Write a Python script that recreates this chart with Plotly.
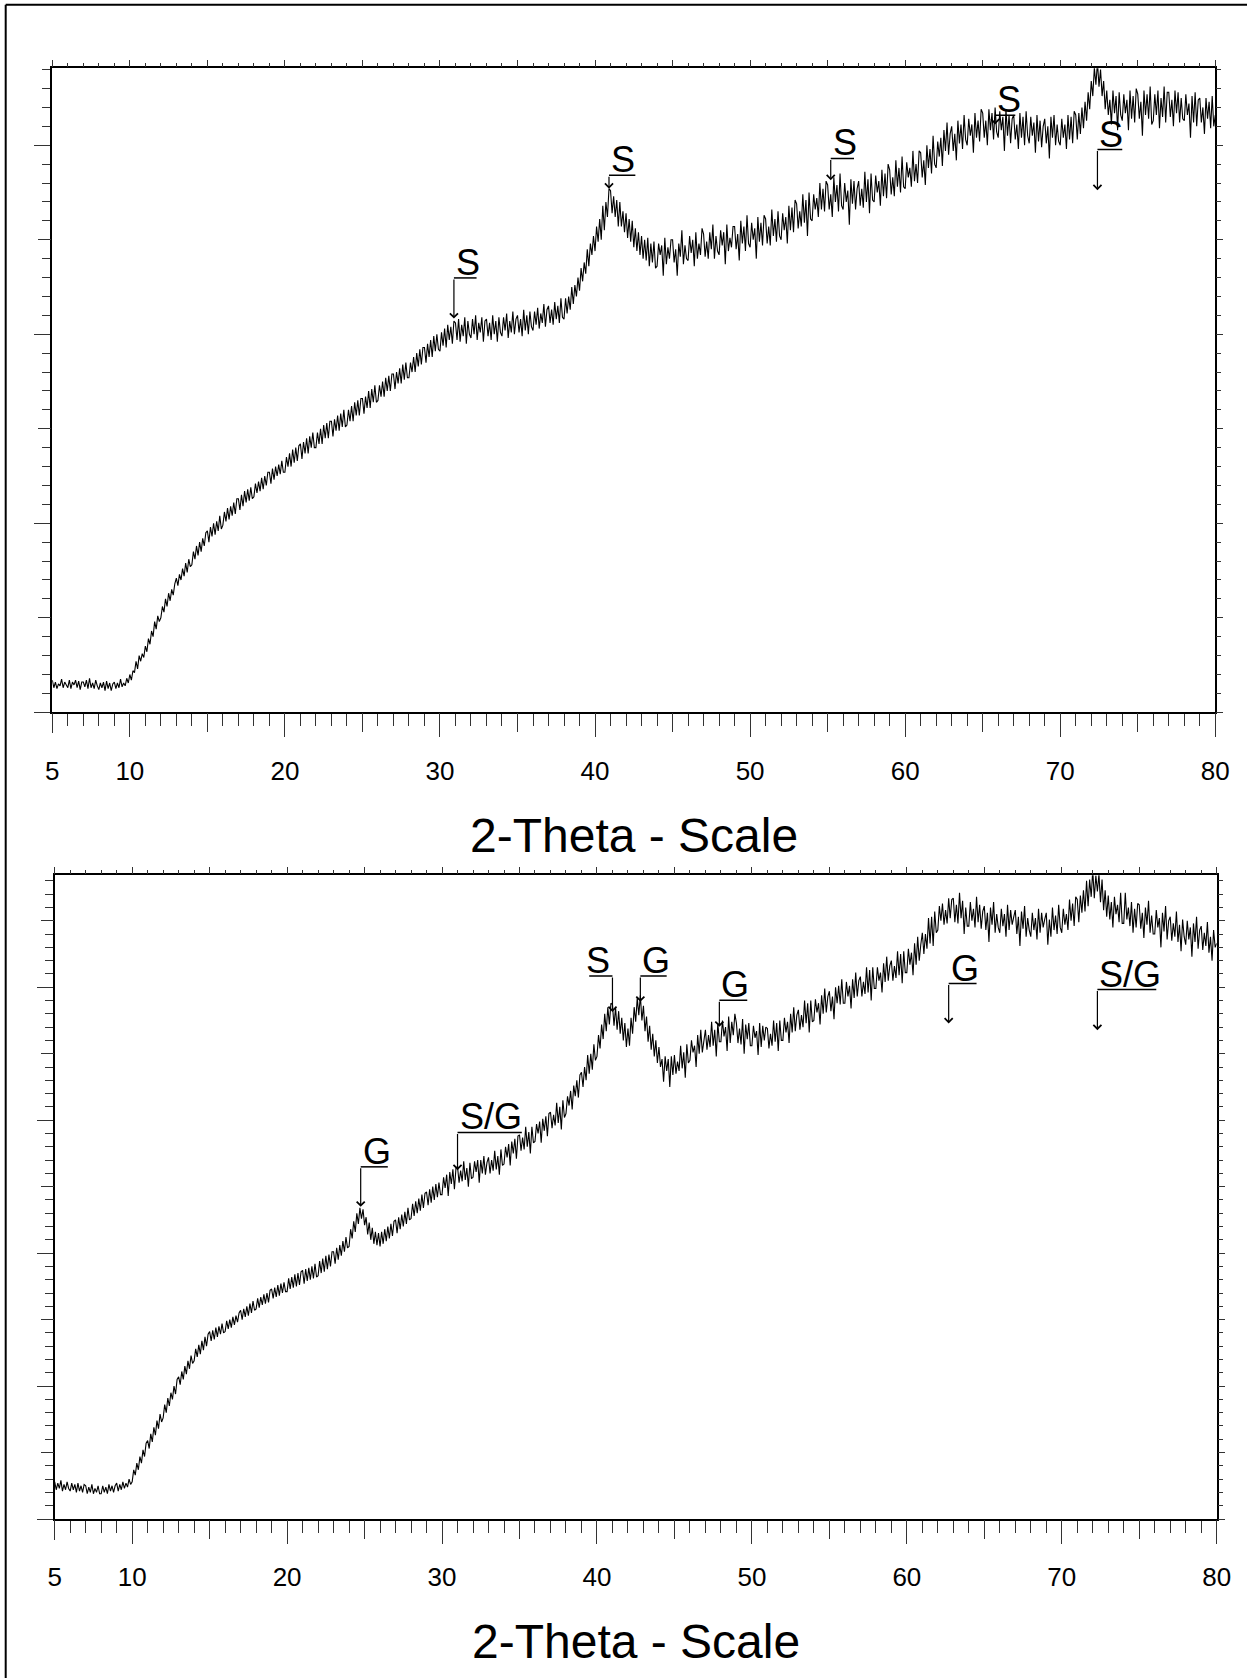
import plotly.graph_objects as go

# ---------------- data ----------------
scan_start = 5.0      # 2-theta of first step
scan_step = 0.1       # 2-theta step

# upper pattern, intensity (counts), one row per degree (x.0 ... x.9)
top_counts = [
    17, 13, 16, 12.5, 15, 14, 17.5, 13, 16, 14,            # 5
    13, 17, 12.5, 16, 14.5, 17, 13, 16.5, 12, 16,          # 6
    16, 13.5, 17, 12.5, 18, 13, 15.5, 12.5, 17, 14,        # 7
    12, 15.5, 13, 16, 11.5, 16.5, 12.5, 15.5, 11.5, 15,    # 8
    16, 12.5, 15.5, 13, 17.5, 13.5, 15.5, 14, 18, 15.5,    # 9
    20, 17, 22, 21, 27, 23, 30, 27, 31, 29,                # 10
    35, 32, 39, 36, 43, 40, 48, 44, 51, 48,                # 11
    50, 56, 53, 60, 56, 63, 59, 65, 62, 68,                # 12
    71, 67, 73, 70, 76, 72, 79, 74, 81, 77,                # 13
    78, 85, 81, 88, 83, 90, 85, 92, 88, 95,                # 14
    96, 90, 98, 93, 100, 94, 101, 96, 104, 97,             # 15
    99, 106, 101, 108, 102, 109, 104, 111, 105, 113,       # 16
    113, 107, 115, 109, 117, 111, 118, 112, 119, 113,      # 17
    114, 121, 116, 122, 117, 124, 118, 125, 120, 127,      # 18
    127, 121, 129, 123, 130, 125, 131, 126, 133, 127,      # 19
    127, 135, 130, 137, 130, 139, 132, 140, 133, 141,      # 20
    142, 134, 143, 137, 145, 137, 146, 140, 148, 140,      # 21
    140, 148, 142, 150, 142, 152, 145, 153, 145, 154,      # 22
    154, 146, 155, 149, 157, 149, 158, 151, 160, 151,      # 23
    152, 160, 154, 162, 154, 164, 157, 165, 157, 166,      # 24
    166, 158, 167, 161, 170, 161, 171, 164, 173, 164,      # 25
    165, 173, 167, 175, 167, 177, 170, 178, 170, 179,      # 26
    179, 171, 180, 174, 182, 174, 184, 176, 185, 177,      # 27
    177, 185, 180, 188, 180, 190, 183, 192, 184, 193,      # 28
    193, 185, 195, 188, 197, 188, 199, 191, 200, 192,      # 29
    191, 201, 194, 203, 193, 205, 197, 204, 195, 207,      # 30
    206, 197, 208, 196, 205, 199, 209, 195, 207, 200,      # 31
    198, 208, 200, 210, 197, 206, 201, 209, 196, 207,      # 32
    208, 199, 206, 197, 210, 200, 207, 196, 209, 201,      # 33
    199, 209, 202, 211, 198, 207, 201, 212, 200, 208,      # 34
    210, 201, 208, 199, 213, 202, 210, 200, 212, 204,      # 35
    202, 212, 205, 214, 203, 211, 206, 216, 204, 213,      # 36
    215, 206, 213, 205, 217, 208, 215, 206, 219, 209,      # 37
    208, 219, 211, 220, 213, 225, 216, 226, 220, 230,      # 38
    223, 235, 228, 238, 232, 245, 236, 248, 242, 252,      # 39
    244, 257, 249, 261, 250, 268, 255, 270, 262, 277,      # 40
    276, 264, 273, 262, 271, 257, 270, 257, 265, 254,      # 41
    264, 251, 261, 249, 260, 246, 256, 244, 254, 242,      # 42
    252, 240, 250, 239, 251, 236, 248, 238, 249, 235,      # 43
    236, 248, 242, 247, 231, 251, 237, 246, 240, 250,      # 44
    250, 238, 245, 231, 248, 241, 255, 237, 247, 240,      # 45
    239, 252, 243, 250, 236, 254, 240, 248, 242, 256,      # 46
    253, 241, 249, 240, 254, 245, 258, 240, 252, 244,      # 47
    242, 255, 247, 254, 237, 258, 244, 251, 246, 257,      # 48
    257, 245, 253, 239, 260, 248, 257, 244, 263, 248,      # 49
    246, 259, 250, 256, 240, 262, 249, 259, 247, 263,      # 50
    261, 248, 257, 247, 266, 252, 261, 249, 265, 252,      # 51
    250, 264, 255, 262, 248, 268, 255, 267, 254, 271,      # 52
    269, 256, 265, 257, 274, 259, 271, 252, 275, 261,      # 53
    260, 274, 266, 272, 262, 280, 266, 277, 265, 281,      # 54
    279, 266, 274, 262, 283, 270, 279, 265, 285, 268,      # 55
    266, 280, 270, 276, 258, 282, 269, 281, 266, 277,      # 56
    281, 268, 277, 267, 286, 270, 282, 264, 285, 271,      # 57
    270, 284, 275, 281, 268, 287, 273, 285, 272, 290,      # 58
    287, 274, 283, 273, 292, 278, 288, 275, 294, 278,      # 59
    277, 291, 283, 288, 278, 297, 281, 290, 280, 297,      # 60
    296, 283, 292, 279, 300, 288, 298, 285, 305, 290,      # 61
    288, 302, 294, 304, 289, 308, 297, 312, 295, 306,      # 62
    310, 297, 306, 292, 313, 301, 311, 298, 316, 303,      # 63
    300, 314, 305, 311, 296, 317, 304, 313, 302, 319,      # 64
    317, 304, 313, 300, 319, 308, 317, 303, 320, 307,      # 65
    304, 318, 308, 315, 297, 319, 305, 316, 301, 314,      # 66
    316, 303, 311, 298, 317, 304, 315, 300, 318, 305,      # 67
    301, 315, 305, 312, 296, 316, 302, 313, 299, 310,      # 68
    314, 301, 310, 293, 315, 304, 316, 300, 311, 302,      # 69
    300, 314, 304, 311, 298, 316, 303, 315, 301, 318,      # 70
    316, 303, 317, 306, 320, 309, 323, 313, 328, 319,      # 71
    334, 326, 341, 332, 344, 331, 340, 326, 334, 319,      # 72
    329, 316, 324, 311, 329, 317, 326, 308, 328, 316,      # 73
    313, 327, 317, 324, 308, 329, 314, 326, 312, 330,      # 74
    327, 314, 323, 305, 329, 316, 327, 314, 331, 311,      # 75
    313, 327, 316, 329, 309, 325, 315, 331, 312, 328,      # 76
    328, 315, 324, 310, 329, 317, 328, 312, 325, 314,      # 77
    313, 327, 316, 322, 304, 326, 312, 328, 310, 324,      # 78
    325, 312, 320, 306, 325, 314, 323, 309, 326, 310,      # 79
    316,                                                   # 80
]

# lower pattern
bottom_counts = [
    28, 22, 27, 23, 29, 21, 26, 22, 28, 23,                # 5
    21, 27, 22, 26, 20, 27, 21, 25, 20, 26,                # 6
    25, 19, 24, 20, 26, 19, 23, 20, 25, 19,                # 7
    19, 25, 20, 24, 19, 26, 21, 25, 20, 25,                # 8
    27, 21, 26, 22, 28, 23, 27, 24, 30, 26,                # 9
    28, 37, 33, 42, 37, 47, 42, 52, 47, 57,                # 10
    59, 53, 64, 58, 69, 63, 74, 68, 79, 73,                # 11
    76, 86, 80, 91, 85, 95, 90, 100, 94, 105,              # 12
    107, 101, 111, 105, 115, 109, 119, 113, 123, 117,      # 13
    119, 128, 122, 131, 124, 134, 127, 137, 130, 139,      # 14
    141, 134, 142, 135, 144, 137, 145, 139, 147, 140,      # 15
    141, 149, 143, 150, 144, 152, 146, 153, 148, 155,      # 16
    157, 150, 158, 152, 160, 153, 162, 155, 164, 157,      # 17
    158, 166, 159, 167, 161, 169, 162, 170, 163, 172,      # 18
    173, 166, 174, 167, 176, 168, 177, 170, 178, 171,      # 19
    171, 181, 173, 182, 174, 184, 175, 185, 176, 186,      # 20
    187, 177, 188, 179, 189, 180, 190, 181, 192, 182,      # 21
    183, 194, 185, 196, 186, 198, 188, 199, 190, 201,      # 22
    201, 192, 204, 195, 206, 198, 209, 201, 212, 204,      # 23
    205, 218, 211, 224, 216, 230, 222, 234, 226, 233,      # 24
    221, 227, 214, 223, 210, 219, 207, 216, 206, 215,      # 25
    205, 216, 207, 218, 209, 220, 211, 222, 213, 224,      # 26
    225, 215, 227, 218, 229, 220, 231, 222, 234, 225,      # 27
    226, 237, 228, 239, 230, 241, 232, 244, 234, 245,      # 28
    246, 236, 248, 238, 250, 240, 252, 242, 253, 244,      # 29
    244, 257, 249, 259, 243, 261, 252, 263, 248, 264,      # 30
    265, 253, 262, 254, 269, 255, 264, 250, 268, 256,      # 31
    257, 269, 261, 270, 253, 270, 260, 273, 259, 268,      # 32
    272, 260, 270, 262, 277, 263, 273, 259, 278, 266,      # 33
    267, 280, 272, 282, 266, 284, 275, 286, 271, 288,      # 34
    289, 277, 287, 278, 295, 280, 291, 275, 295, 283,      # 35
    284, 297, 290, 299, 283, 301, 292, 303, 288, 305,      # 36
    306, 294, 304, 296, 313, 298, 310, 293, 315, 302,      # 37
    305, 318, 311, 322, 308, 326, 318, 330, 317, 334,      # 38
    336, 325, 340, 330, 349, 335, 350, 338, 357, 345,      # 39
    348, 364, 354, 372, 361, 380, 367, 385, 372, 388,      # 40
    387, 371, 385, 368, 382, 365, 377, 360, 373, 355,      # 41
    369, 356, 377, 365, 385, 374, 392, 379, 394, 375,      # 42
    386, 367, 378, 359, 371, 353, 365, 348, 360, 343,      # 43
    355, 340, 346, 329, 348, 337, 346, 325, 348, 334,      # 44
    349, 335, 344, 337, 356, 339, 351, 332, 357, 343,      # 45
    345, 360, 351, 356, 340, 364, 350, 368, 351, 362,      # 46
    368, 353, 364, 355, 374, 356, 368, 348, 373, 359,      # 47
    359, 375, 363, 370, 352, 378, 358, 374, 364, 380,      # 48
    373, 358, 369, 357, 376, 350, 372, 361, 373, 356,      # 49
    356, 371, 362, 367, 349, 373, 355, 371, 360, 370,      # 50
    369, 354, 365, 356, 375, 359, 373, 352, 375, 360,      # 51
    360, 377, 366, 374, 358, 380, 366, 385, 367, 379,      # 52
    383, 368, 379, 370, 390, 373, 388, 366, 390, 374,      # 53
    375, 391, 381, 388, 372, 394, 380, 399, 381, 393,      # 54
    397, 382, 393, 376, 400, 388, 401, 387, 406, 388,      # 55
    388, 404, 393, 401, 384, 406, 392, 411, 393, 405,      # 56
    408, 393, 404, 395, 415, 396, 413, 390, 415, 399,      # 57
    399, 415, 405, 411, 396, 418, 404, 423, 405, 416,      # 58
    420, 405, 416, 407, 427, 409, 425, 403, 427, 411,      # 59
    411, 429, 417, 426, 409, 433, 417, 438, 420, 432,      # 60
    441, 425, 440, 429, 452, 433, 453, 431, 457, 441,      # 61
    443, 461, 450, 463, 447, 458, 448, 467, 452, 466,      # 62
    467, 449, 462, 448, 471, 452, 465, 440, 460, 446,      # 63
    446, 464, 450, 459, 445, 468, 449, 462, 444, 457,      # 64
    461, 443, 456, 434, 460, 447, 464, 441, 455, 445,      # 65
    441, 459, 446, 455, 438, 462, 443, 458, 447, 453,      # 66
    458, 440, 453, 431, 457, 444, 461, 438, 452, 443,      # 67
    438, 456, 443, 452, 436, 459, 441, 456, 445, 451,      # 68
    456, 432, 451, 438, 460, 443, 454, 440, 462, 445,      # 69
    441, 459, 447, 455, 443, 466, 450, 463, 446, 468,      # 70
    466, 449, 469, 456, 473, 457, 480, 461, 481, 468,      # 71
    488, 467, 484, 472, 485, 464, 481, 458, 473, 453,      # 72
    469, 451, 464, 445, 468, 455, 462, 449, 471, 448,      # 73
    448, 471, 451, 460, 446, 464, 441, 459, 445, 463,      # 74
    462, 444, 456, 437, 460, 447, 465, 441, 454, 440,      # 75
    440, 458, 445, 452, 430, 456, 442, 461, 436, 450,      # 76
    453, 435, 448, 438, 457, 434, 447, 427, 451, 438,      # 77
    432, 450, 436, 445, 423, 448, 434, 453, 429, 443,      # 78
    446, 428, 441, 431, 449, 426, 438, 420, 443, 430,      # 79
    433,                                                   # 80
]

# x axis ticks
x_tick_values = [5, 10, 20, 30, 40, 50, 60, 70, 80]
x_tick_labels = ["5", "10", "20", "30", "40", "50", "60", "70", "80"]
x_title = "2-Theta - Scale"

# y ranges (counts)
top_y_range = [0, 340.7]
bottom_y_range = [0, 484.2]

# phase markers: label, 2-theta of stem, intensity of bracket, intensity of arrow tip, 2-theta where bracket ends
top_peak_labels = ["S", "S", "S", "S", "S"]
top_peak_2theta = [30.9, 40.9, 55.2, 65.8, 72.4]
top_bracket_counts = [229.8, 284.1, 293.0, 315.9, 297.7]
top_tip_counts = [208.3, 277.0, 281.5, 311.0, 276.2]
top_bracket_end = [32.36, 42.6, 56.7, 67.1, 74.0]

bottom_peak_labels = ["G", "S/G", "S", "G", "G", "G", "S/G"]
bottom_peak_2theta = [24.75, 31.0, 41.0, 42.8, 47.9, 62.7, 72.3]
bottom_bracket_counts = [264.9, 290.8, 408.5, 408.5, 390.2, 402.8, 398.3]
bottom_tip_counts = [234.8, 262.4, 381.4, 389.0, 370.2, 372.7, 367.7]
bottom_bracket_end = [26.5, 35.15, 39.5, 44.5, 49.7, 64.5, 76.1]

# ---------------- figure ----------------
W, H = 1247, 1678
FONT = "Liberation Sans, Arial, Helvetica, sans-serif"
TICKC = "#333333"

two_theta = [round(scan_start + scan_step * i, 2) for i in range(len(top_counts))]

top_xdom = [52.3 / W, 1215.3 / W]
top_ydom = [1 - 712.3 / H, 1 - 68.3 / H]
bot_xdom = [54.7 / W, 1216.7 / W]
bot_ydom = [1 - 1519.0 / H, 1 - 875.3 / H]

fig = go.Figure()
fig.add_trace(go.Scatter(x=two_theta, y=top_counts, mode="lines",
                         line=dict(color="black", width=1.1),
                         xaxis="x", yaxis="y", showlegend=False, hoverinfo="skip"))
fig.add_trace(go.Scatter(x=two_theta, y=bottom_counts, mode="lines",
                         line=dict(color="black", width=1.1),
                         xaxis="x2", yaxis="y2", showlegend=False, hoverinfo="skip"))
# empty helper traces so the overlay tick axes are drawn
for xa, ya in [("x3", "y"), ("x5", "y"), ("x", "y3"), ("x", "y5"),
               ("x4", "y2"), ("x6", "y2"), ("x2", "y4"), ("x2", "y6")]:
    fig.add_trace(go.Scatter(x=[], y=[], xaxis=xa, yaxis=ya,
                             showlegend=False, hoverinfo="skip"))

xr = [scan_start, 80]


def main_x(domain, anchor):
    return dict(domain=domain, anchor=anchor, range=xr, showline=True, linecolor="black",
                linewidth=2, mirror=True, showgrid=False, zeroline=False,
                ticks="outside", tickvals=x_tick_values, ticktext=x_tick_labels,
                ticklen=19, tickwidth=1, tickcolor=TICKC,
                minor=dict(ticks="outside", dtick=1, tick0=5, ticklen=12, tickwidth=1,
                           tickcolor=TICKC, showgrid=False),
                tickfont=dict(family=FONT, size=26, color="black"),
                ticklabelstandoff=15, automargin=False, fixedrange=True)


def long_x(overlay, anchor):
    return dict(overlaying=overlay, anchor=anchor, side="bottom", range=xr,
                showline=False, showgrid=False, zeroline=False, showticklabels=False,
                ticks="outside", tickvals=x_tick_values[1:], ticklen=24, tickwidth=1,
                tickcolor=TICKC,
                minor=dict(ticks="outside", dtick=5, tick0=5, ticklen=19, tickwidth=1,
                           tickcolor=TICKC, showgrid=False),
                automargin=False, fixedrange=True)


def top_x(overlay, anchor):
    return dict(overlaying=overlay, anchor=anchor, side="top", range=xr,
                showline=False, showgrid=False, zeroline=False, showticklabels=False,
                ticks="outside", dtick=5, tick0=5, ticklen=7, tickwidth=1, tickcolor=TICKC,
                minor=dict(ticks="outside", dtick=1, tick0=5, ticklen=4, tickwidth=1,
                           tickcolor=TICKC, showgrid=False),
                automargin=False, fixedrange=True)


def main_y(domain, anchor, rng):
    return dict(domain=domain, anchor=anchor, range=rng, showline=True, linecolor="black",
                linewidth=2, mirror=True, showgrid=False, zeroline=False,
                showticklabels=False, ticks="outside", dtick=100, tick0=0, ticklen=16,
                tickwidth=1, tickcolor=TICKC,
                minor=dict(ticks="outside", dtick=10, tick0=0, ticklen=8, tickwidth=1,
                           tickcolor=TICKC, showgrid=False),
                automargin=False, fixedrange=True)


def mid_y(overlay, anchor, rng):
    return dict(overlaying=overlay, anchor=anchor, side="left", range=rng,
                showline=False, showgrid=False, zeroline=False, showticklabels=False,
                ticks="outside", dtick=100, tick0=50, ticklen=13, tickwidth=1,
                tickcolor=TICKC, automargin=False, fixedrange=True)


def right_y(overlay, anchor, rng):
    return dict(overlaying=overlay, anchor=anchor, side="right", range=rng,
                showline=False, showgrid=False, zeroline=False, showticklabels=False,
                ticks="outside", dtick=50, tick0=0, ticklen=7, tickwidth=1, tickcolor=TICKC,
                minor=dict(ticks="outside", dtick=10, tick0=0, ticklen=5, tickwidth=1,
                           tickcolor=TICKC, showgrid=False),
                automargin=False, fixedrange=True)


fig.update_layout(
    width=W, height=H, margin=dict(l=0, r=0, t=0, b=0),
    paper_bgcolor="white", plot_bgcolor="white", showlegend=False,
    font=dict(family=FONT, color="black"),
    xaxis=main_x(top_xdom, "y"), yaxis=main_y(top_ydom, "x", top_y_range),
    xaxis2=main_x(bot_xdom, "y2"), yaxis2=main_y(bot_ydom, "x2", bottom_y_range),
    xaxis3=long_x("x", "y"), xaxis4=long_x("x2", "y2"),
    xaxis5=top_x("x", "y"), xaxis6=top_x("x2", "y2"),
    yaxis3=mid_y("y", "x", top_y_range), yaxis4=mid_y("y2", "x2", bottom_y_range),
    yaxis5=right_y("y", "x", top_y_range), yaxis6=right_y("y2", "x2", bottom_y_range),
)

# axis titles (as paper annotations beneath each panel)
for dom_x, y_px in [(top_xdom, 835), (bot_xdom, 1641)]:
    fig.add_annotation(x=(dom_x[0] + dom_x[1]) / 2, y=1 - y_px / H, xref="paper", yref="paper",
                       text=x_title, showarrow=False, xanchor="center", yanchor="middle",
                       font=dict(family=FONT, size=48, color="black"))


def add_markers(labels, pos, bracket, tip, end, xref, yref):
    for lab, p, b, t, e in zip(labels, pos, bracket, tip, end):
        fig.add_annotation(x=p, y=t, ax=p, ay=b, xref=xref, yref=yref, axref=xref, ayref=yref,
                           showarrow=True, text="", arrowhead=4, arrowsize=1.3,
                           arrowwidth=1.2, arrowcolor="black", standoff=0, startstandoff=0)
        fig.add_shape(type="line", x0=p, x1=e, y0=b, y1=b, xref=xref, yref=yref,
                      line=dict(color="black", width=1.5))
        fig.add_annotation(x=p, y=b, xref=xref, yref=yref, text=lab, showarrow=False,
                           xanchor="left" if e > p else "right", yanchor="bottom", yshift=-7,
                           font=dict(family=FONT, size=36, color="black"))


add_markers(top_peak_labels, top_peak_2theta, top_bracket_counts, top_tip_counts,
            top_bracket_end, "x", "y")
add_markers(bottom_peak_labels, bottom_peak_2theta, bottom_bracket_counts, bottom_tip_counts,
            bottom_bracket_end, "x2", "y2")

# outer frame (left and top edges)
fig.add_shape(type="line", xref="paper", yref="paper", x0=5.7 / W, x1=5.7 / W, y0=0, y1=1 - 4.7 / H,
              line=dict(color="black", width=2))
fig.add_shape(type="line", xref="paper", yref="paper", x0=5.7 / W, x1=1, y0=1 - 4.7 / H, y1=1 - 4.7 / H,
              line=dict(color="black", width=2))

fig.write_html("out.html", config={"displayModeBar": False},
               post_script="document.body.style.margin='0';")
